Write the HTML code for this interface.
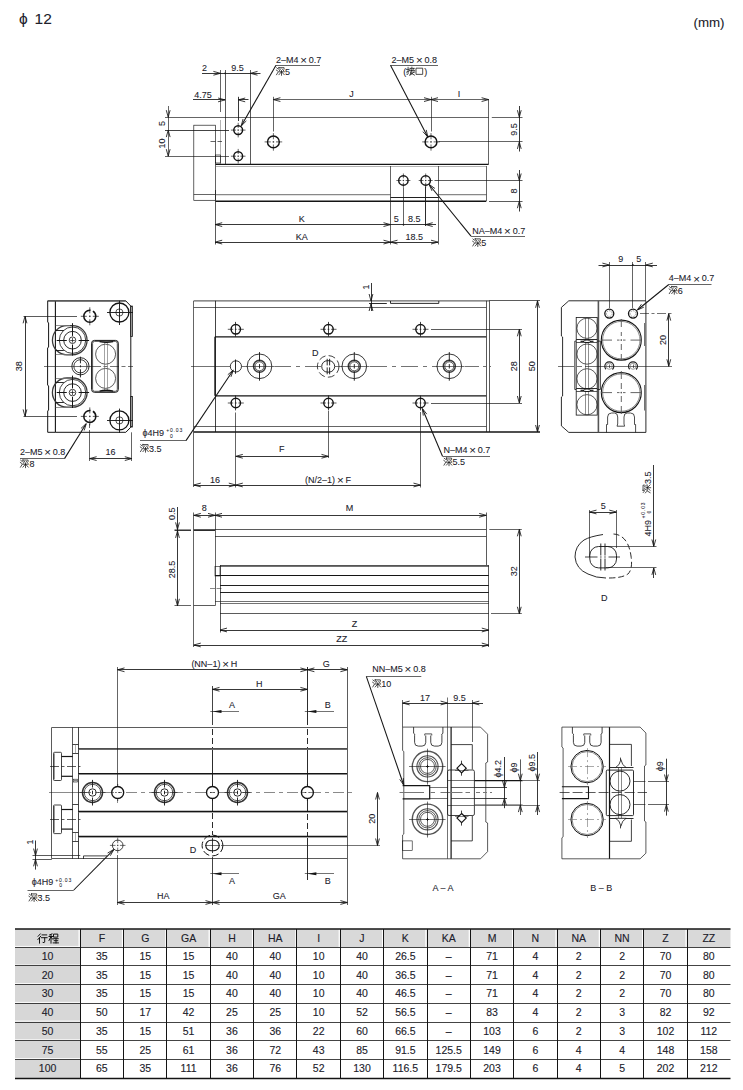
<!DOCTYPE html>
<html><head><meta charset="utf-8"><title>phi12 dimensions</title>
<style>
html,body{margin:0;padding:0;background:#fff;}
body{width:743px;height:1090px;overflow:hidden;font-family:"Liberation Sans",sans-serif;}
svg{display:block;}
svg text{font-family:"Liberation Sans",sans-serif;fill:#20202a;}
</style></head><body>
<svg width="743" height="1090" viewBox="0 0 743 1090" fill="none" stroke="#141414" stroke-linecap="butt" stroke-linejoin="miter">
<rect x="0" y="0" width="743" height="1090" fill="#fff" stroke="none"/>
<text x="19" y="23.7" font-size="15.5" text-anchor="start" stroke="#20202a" stroke-width="0.08">&#981;</text>
<text x="34.6" y="23.7" font-size="15.5" text-anchor="start" stroke="#20202a" stroke-width="0.08">12</text>
<text x="693.5" y="27.3" font-size="13.3" text-anchor="start" stroke="#20202a" stroke-width="0.08">(mm)</text>
<rect x="193.8" y="125.2" width="21.7" height="75.1" stroke-width="0.66"/>
<path d="M193.8 194.5L215.5 194.5" stroke-width="0.66"/>
<path d="M165 117.5L488.6 117.5" stroke-width="0.66"/>
<path d="M488.5 99L488.5 164.4" stroke-width="0.66"/>
<path d="M220.5 70L220.5 112" stroke-width="0.66"/>
<path d="M220.5 120L220.5 164.4" stroke-width="0.45" stroke="#555"/>
<path d="M225.5 70L225.5 164.4" stroke-width="0.7"/>
<path d="M250.5 70L250.5 164.4" stroke-width="0.7"/>
<path d="M215.5 164.4L488.6 164.4" stroke-width="1.35"/>
<path d="M215.5 201.2L486.2 201.2" stroke-width="1.35"/>
<path d="M215.5 194.6L390.5 194.6" stroke-width="1.2" stroke="#888"/>
<path d="M438.5 194.6L486.3 194.6" stroke-width="1.2" stroke="#888"/>
<path d="M215.5 190L215.5 244.5" stroke-width="0.7"/>
<path d="M215.5 166.5L486.2 166.5" stroke-width="0.45" stroke="#555"/>
<path d="M486.5 166L486.5 201.2" stroke-width="0.66"/>
<path d="M390.5 197.5L438.5 197.5" stroke-width="0.95"/>
<path d="M390.5 166L390.5 244.5" stroke-width="0.66"/>
<path d="M438.5 166L438.5 244.5" stroke-width="0.66"/>
<rect x="215.6" y="155" width="4.8" height="8" stroke-width="0.66"/>
<path d="M210.5 141.5L222 141.5" stroke-width="0.66" stroke-dasharray="5 2"/>
<circle cx="238.2" cy="130.1" r="4.4" stroke-width="1.45"/>
<path d="M230.9 130.1H236M237.5 130.1H238.9M240.4 130.1H245.5M238.2 122.8V127.9M238.2 129.4V130.8M238.2 132.3V137.4" stroke-width="0.65"/>
<circle cx="238.2" cy="156.2" r="4.4" stroke-width="1.45"/>
<path d="M230.9 156.2H236M237.5 156.2H238.9M240.4 156.2H245.5M238.2 148.9V154M238.2 155.5V156.9M238.2 158.4V163.5" stroke-width="0.65"/>
<circle cx="273.4" cy="141.9" r="5.9" stroke-width="1.45"/>
<path d="M264.6 141.9H270.8M272.6 141.9H274.2M276 141.9H282.2M273.4 133.1V139.3M273.4 141.1V142.7M273.4 144.5V150.7" stroke-width="0.65"/>
<circle cx="431" cy="141.9" r="5.9" stroke-width="1.45"/>
<path d="M422.2 141.9H428.4M430.2 141.9H431.8M433.6 141.9H439.8M431 133.1V139.3M431 141.1V142.7M431 144.5V150.7" stroke-width="0.65"/>
<circle cx="403.4" cy="180.5" r="4.7" stroke-width="1.45"/>
<path d="M396.4 180.5H401.2M402.7 180.5H404.1M405.6 180.5H410.4M403.4 173.5V178.3M403.4 179.8V181.2M403.4 182.7V187.5" stroke-width="0.65"/>
<circle cx="425.7" cy="180.5" r="4.7" stroke-width="1.45"/>
<path d="M418.7 180.5H423.5M425 180.5H426.4M427.9 180.5H432.7M425.7 173.5V178.3M425.7 179.8V181.2M425.7 182.7V187.5" stroke-width="0.65"/>
<path d="M202 73.5L260.5 73.5" stroke-width="0.85"/>
<path d="M213.40 75.20L220.4 73.3L213.40 71.40" stroke-width="0.85"/>
<path d="M257.50 71.40L250.5 73.3L257.50 75.20" stroke-width="0.85"/>
<circle cx="225.1" cy="73.3" r="0.9" fill="#1c1c1c" stroke="none"/>
<text x="204.5" y="70.6" font-size="9" text-anchor="middle" stroke="#20202a" stroke-width="0.08">2</text>
<text x="237.5" y="70.6" font-size="9" text-anchor="middle" stroke="#20202a" stroke-width="0.08">9.5</text>
<path d="M193 99.5L225.1 99.5" stroke-width="0.85"/>
<path d="M218.10 101.80L225.1 99.9L218.10 98.00" stroke-width="0.85"/>
<text x="203" y="97.6" font-size="9" text-anchor="middle" stroke="#20202a" stroke-width="0.08">4.75</text>
<path d="M238.5 96.8L238.5 121" stroke-width="0.85"/>
<path d="M238.2 99.5L248.5 99.5" stroke-width="0.85"/>
<path d="M245.20 98.00L238.2 99.9L245.20 101.80" stroke-width="0.85"/>
<path d="M273.5 96.8L273.5 131.5" stroke-width="0.66"/>
<path d="M273.4 99.5L488.6 99.5" stroke-width="0.66"/>
<path d="M280.40 97.70L273.4 99.6L280.40 101.50" stroke-width="0.85"/>
<path d="M424.00 101.50L431 99.6L424.00 97.70" stroke-width="0.85"/>
<path d="M438.00 97.70L431 99.6L438.00 101.50" stroke-width="0.85"/>
<path d="M481.60 101.50L488.6 99.6L481.60 97.70" stroke-width="0.85"/>
<path d="M431.5 96.8L431.5 131.5" stroke-width="0.66"/>
<text x="351.5" y="97" font-size="9" text-anchor="middle" stroke="#20202a" stroke-width="0.08">J</text>
<text x="459" y="97" font-size="9" text-anchor="middle" stroke="#20202a" stroke-width="0.08">I</text>
<path d="M168.5 106L168.5 156.2" stroke-width="0.66"/>
<path d="M166.30 110.20L168.2 117.2L170.10 110.20" stroke-width="0.85"/>
<path d="M170.10 137.10L168.2 130.1L166.30 137.10" stroke-width="0.85"/>
<path d="M166.30 149.20L168.2 156.2L170.10 149.20" stroke-width="0.85"/>
<path d="M165 130.5L229 130.5" stroke-width="0.8"/>
<path d="M165 156.5L229 156.5" stroke-width="0.66"/>
<text x="165" y="123.5" font-size="9" text-anchor="middle" transform="rotate(-90 165 123.5)" stroke="#20202a" stroke-width="0.08">5</text>
<text x="165" y="143.5" font-size="9" text-anchor="middle" transform="rotate(-90 165 143.5)" stroke="#20202a" stroke-width="0.08">10</text>
<path d="M276 65.5L320 65.5" stroke-width="0.66"/>
<path d="M276 65.2L241.5 125.5" stroke-width="1.05"/>
<path d="M243.05 118.99L241.2 126L246.35 120.89" stroke-width="0.85"/>
<text x="276" y="62.5" font-size="9" text-anchor="start" stroke="#20202a" stroke-width="0.08">2&#8211;M4&#8201;<tspan font-size="11.5" dy="1.2">&#215;</tspan><tspan dy="-1.2">&#8201;</tspan>0.7</text>
<path d="M8 12L22 24M4 38L18 48M6 92L24 62 M34 8V26M34 10H94V26 M52 26L40 46M74 26L90 46 M32 58H96 M64 44V98 M62 60L34 92M66 60L96 92" transform="translate(276 66.8) scale(0.0860)" stroke-width="8.72" stroke-linecap="square"/>
<text x="284.9" y="74.6" font-size="9" text-anchor="start" stroke="#20202a" stroke-width="0.08">5</text>
<path d="M390.5 65.5L438 65.5" stroke-width="0.66"/>
<path d="M390.5 65.2L427.5 136.5" stroke-width="1.05"/>
<path d="M422.88 131.67L427.8 137L426.25 129.91" stroke-width="0.85"/>
<text x="414.3" y="62.5" font-size="9" text-anchor="middle" stroke="#20202a" stroke-width="0.08">2&#8211;M5&#8201;<tspan font-size="11.5" dy="1.2">&#215;</tspan><tspan dy="-1.2">&#8201;</tspan>0.8</text>
<text x="403.3" y="74.6" font-size="9" text-anchor="start" stroke="#20202a" stroke-width="0.08">(</text>
<path d="M4 30H36M22 6V82Q22 94 8 88M4 62L38 46 M66 4V16M44 18H94M54 22L60 38M84 22L78 38M42 42H98 M62 42Q58 70 44 96M50 62H98M88 62Q78 84 44 96M54 74Q76 84 96 96" transform="translate(406.2 66.8) scale(0.0860)" stroke-width="8.72" stroke-linecap="square"/>
<path d="M14 16H86V88H14Z" transform="translate(415.3 66.8) scale(0.0860)" stroke-width="8.72" stroke-linecap="square"/>
<text x="424.2" y="74.6" font-size="9" text-anchor="start" stroke="#20202a" stroke-width="0.08">)</text>
<path d="M491.8 117.5L522.5 117.5" stroke-width="0.66"/>
<path d="M438.5 141.5L522.5 141.5" stroke-width="0.66"/>
<path d="M519.5 106L519.5 151.5" stroke-width="0.85"/>
<path d="M517.40 110.20L519.3 117.2L521.20 110.20" stroke-width="0.85"/>
<path d="M521.20 148.90L519.3 141.9L517.40 148.90" stroke-width="0.85"/>
<text x="517" y="129.5" font-size="9" text-anchor="middle" transform="rotate(-90 517 129.5)" stroke="#20202a" stroke-width="0.08">9.5</text>
<path d="M434.5 180.5L522.5 180.5" stroke-width="0.7"/>
<path d="M489 201.5L522.5 201.5" stroke-width="0.7"/>
<path d="M519.5 170L519.5 211.5" stroke-width="0.85"/>
<path d="M517.40 173.50L519.3 180.5L521.20 173.50" stroke-width="0.85"/>
<path d="M521.20 208.20L519.3 201.2L517.40 208.20" stroke-width="0.85"/>
<text x="517" y="191" font-size="9" text-anchor="middle" transform="rotate(-90 517 191)" stroke="#20202a" stroke-width="0.08">8</text>
<path d="M215.2 224.5L390.5 224.5" stroke-width="0.85"/>
<path d="M222.20 222.70L215.2 224.6L222.20 226.50" stroke-width="0.85"/>
<path d="M383.50 226.50L390.5 224.6L383.50 222.70" stroke-width="0.85"/>
<text x="301.8" y="221.8" font-size="9" text-anchor="middle" stroke="#20202a" stroke-width="0.08">K</text>
<path d="M215.2 242.5L438 242.5" stroke-width="0.85"/>
<path d="M222.20 240.20L215.2 242.1L222.20 244.00" stroke-width="0.85"/>
<path d="M383.50 244.00L390.5 242.1L383.50 240.20" stroke-width="0.85"/>
<path d="M397.50 240.20L390.5 242.1L397.50 244.00" stroke-width="0.85"/>
<path d="M431.00 244.00L438 242.1L431.00 240.20" stroke-width="0.85"/>
<text x="301.8" y="239.6" font-size="9" text-anchor="middle" stroke="#20202a" stroke-width="0.08">KA</text>
<path d="M403.5 187.5L403.5 225.5" stroke-width="0.66"/>
<path d="M425.5 186.5L425.5 226" stroke-width="0.9"/>
<path d="M390.5 224.5L436 224.5" stroke-width="0.85"/>
<path d="M432.70 222.70L425.7 224.6L432.70 226.50" stroke-width="0.85"/>
<circle cx="403.5" cy="224.6" r="0.9" fill="#1c1c1c" stroke="none"/>
<text x="396.3" y="222" font-size="9" text-anchor="middle" stroke="#20202a" stroke-width="0.08">5</text>
<text x="414.3" y="222" font-size="9" text-anchor="middle" stroke="#20202a" stroke-width="0.08">8.5</text>
<text x="414.3" y="239.8" font-size="9" text-anchor="middle" stroke="#20202a" stroke-width="0.08">18.5</text>
<path d="M471 236.5L525 236.5" stroke-width="0.66"/>
<path d="M471 236.2L429.5 185" stroke-width="1.05"/>
<path d="M434.92 188.49L429 184.3L431.99 190.91" stroke-width="0.85"/>
<text x="472.3" y="233.7" font-size="9" text-anchor="start" stroke="#20202a" stroke-width="0.08">NA&#8211;M4&#8201;<tspan font-size="11.5" dy="1.2">&#215;</tspan><tspan dy="-1.2">&#8201;</tspan>0.7</text>
<path d="M8 12L22 24M4 38L18 48M6 92L24 62 M34 8V26M34 10H94V26 M52 26L40 46M74 26L90 46 M32 58H96 M64 44V98 M62 60L34 92M66 60L96 92" transform="translate(472.3 238) scale(0.0860)" stroke-width="8.72" stroke-linecap="square"/>
<text x="481.2" y="245.8" font-size="9" text-anchor="start" stroke="#20202a" stroke-width="0.08">5</text>
<path d="M55.4 300.9L47.7 300.9L47.7 322L48.6 323L48.6 347L47.6 348L47.6 385L48.6 386L48.6 410L47.7 411L47.7 432.3L55.4 432.3" stroke-width="1.0"/>
<path d="M55.4 300.9L125.8 300.9L130.8 306.1L130.8 427.2L125.8 432.3L55.4 432.3" stroke-width="1.0"/>
<path d="M55.4 300.9L55.4 432.3" stroke-width="1.1"/>
<path d="M47.7 300.9L125.8 300.9" stroke-width="1.3" stroke="#555"/>
<rect x="130.8" y="306.1" width="1.7" height="30.4" stroke-width="0.8"/>
<rect x="130.8" y="396.5" width="1.7" height="30.5" stroke-width="0.8"/>
<path d="M44 366.5L92 366.5" stroke-width="0.6"/>
<path d="M92 366.5L133 366.5" stroke-width="0.6" stroke-dasharray="9 2.5 4 2.5"/>
<circle cx="89.8" cy="316.3" r="6" stroke-width="1.5" stroke-dasharray="28.3 2.5"/>
<path d="M80.8 316.3H86.8M89 316.3H90.6M92.8 316.3H98.8M89.8 307.3V313.3M89.8 315.5V317.1M89.8 319.3V325.3" stroke-width="0.7"/>
<circle cx="89.8" cy="416.4" r="6" stroke-width="1.5" stroke-dasharray="28.3 2.5"/>
<path d="M80.8 416.4H86.8M89 416.4H90.6M92.8 416.4H98.8M89.8 407.4V413.4M89.8 415.6V417.2M89.8 419.4V425.4" stroke-width="0.7"/>
<circle cx="119.4" cy="312.5" r="9.5" stroke-width="1.3"/>
<circle cx="119.4" cy="312.5" r="3.6" stroke-width="0.9" stroke="#444"/>
<path d="M107 312.5L133 312.5" stroke-width="0.9"/>
<path d="M119.5 300.7L119.5 325" stroke-width="0.9"/>
<circle cx="119.4" cy="420.4" r="9.5" stroke-width="1.3"/>
<circle cx="119.4" cy="420.4" r="3.6" stroke-width="0.9" stroke="#444"/>
<path d="M107 420.5L133 420.5" stroke-width="0.9"/>
<path d="M119.5 408.6L119.5 432.9" stroke-width="0.9"/>
<path d="M67 325.59999999999997H72.5A14.6 14.6 0 0 1 72.5 354.8H67A14.6 14.6 0 0 1 67 325.59999999999997Z" stroke-width="1.3" stroke="#3a3a3a"/>
<path d="M55.8 325.5L70 325.5" stroke-width="0.8" stroke="#777"/>
<path d="M55.8 354.5L70 354.5" stroke-width="0.8" stroke="#777"/>
<circle cx="72.5" cy="340.2" r="13.2" stroke-width="0.8"/>
<circle cx="72.5" cy="340.2" r="8.8" stroke-width="0.9"/>
<circle cx="72.5" cy="340.2" r="3.3" stroke-width="0.8"/>
<path d="M55.4 330.5L63.8 330.5" stroke-width="0.9"/>
<path d="M55.4 350.5L63.8 350.5" stroke-width="0.9"/>
<path d="M56.7 340.5L66.8 340.5" stroke-width="1.0"/>
<path d="M78.6 340.5L89.1 340.5" stroke-width="1.0"/>
<path d="M70.2 340.5L74.8 340.5" stroke-width="0.7"/>
<path d="M72.5 323.2L72.5 335.9" stroke-width="1.0"/>
<path d="M72.5 344.5L72.5 355.6" stroke-width="1.0"/>
<path d="M72.5 337.8L72.5 342.6" stroke-width="0.7"/>
<path d="M67 378.0H72.5A14.6 14.6 0 0 1 72.5 407.20000000000005H67A14.6 14.6 0 0 1 67 378.0Z" stroke-width="1.3" stroke="#3a3a3a"/>
<path d="M55.8 378.5L70 378.5" stroke-width="0.8" stroke="#777"/>
<path d="M55.8 407.5L70 407.5" stroke-width="0.8" stroke="#777"/>
<circle cx="72.5" cy="392.6" r="13.2" stroke-width="0.8"/>
<circle cx="72.5" cy="392.6" r="8.8" stroke-width="0.9"/>
<circle cx="72.5" cy="392.6" r="3.3" stroke-width="0.8"/>
<path d="M55.4 382.5L63.8 382.5" stroke-width="0.9"/>
<path d="M55.4 402.5L63.8 402.5" stroke-width="0.9"/>
<path d="M56.7 392.5L66.8 392.5" stroke-width="1.0"/>
<path d="M78.6 392.5L89.1 392.5" stroke-width="1.0"/>
<path d="M70.2 392.5L74.8 392.5" stroke-width="0.7"/>
<path d="M72.5 375.6L72.5 388.3" stroke-width="1.0"/>
<path d="M72.5 396.9L72.5 408" stroke-width="1.0"/>
<path d="M72.5 390.2L72.5 395" stroke-width="0.7"/>
<circle cx="80.45" cy="366.3" r="8.6" stroke-width="0.9"/>
<circle cx="80.45" cy="366.3" r="6.6" stroke-width="0.8"/>
<path d="M80.45 356.7V363.3M80.45 365.3V367.3M80.45 369.3V377.4" stroke-width="0.9"/>
<rect x="91.6" y="340.4" width="26.7" height="51.9" rx="2.8" stroke-width="1.0"/>
<rect x="92.6" y="341.4" width="24.7" height="49.9" rx="2" stroke-width="0.7"/>
<circle cx="105.6" cy="354.2" r="10" stroke-width="0.7"/>
<circle cx="105.6" cy="378.4" r="10" stroke-width="0.7"/>
<path d="M104.5 342L104.5 391" stroke-width="0.6" stroke="#666"/>
<path d="M107.5 342L107.5 391" stroke-width="0.6" stroke="#666"/>
<path d="M99.6 341.6Q106.3 343.2 113.1 341.6" stroke-width="1.4"/>
<path d="M99.6 391.1Q106.3 389.5 113.1 391.1" stroke-width="1.4"/>
<path d="M23.5 316.5L77 316.5" stroke-width="0.7"/>
<path d="M23.5 416.5L77 416.5" stroke-width="0.7"/>
<path d="M25.5 316.3L25.5 416.4" stroke-width="0.85"/>
<path d="M26.90 323.30L25 316.3L23.10 323.30" stroke-width="0.85"/>
<path d="M23.10 409.40L25 416.4L26.90 409.40" stroke-width="0.85"/>
<text x="22.5" y="366.3" font-size="9" text-anchor="middle" transform="rotate(-90 22.5 366.3)" stroke="#20202a" stroke-width="0.08">38</text>
<path d="M89.5 424L89.5 428" stroke-width="0.66"/>
<path d="M89.5 430L89.5 461" stroke-width="0.66"/>
<path d="M131.5 432.3L131.5 461" stroke-width="0.66"/>
<path d="M89.6 458.5L131.8 458.5" stroke-width="0.85"/>
<path d="M96.60 456.70L89.6 458.6L96.60 460.50" stroke-width="0.85"/>
<path d="M124.80 460.50L131.8 458.6L124.80 456.70" stroke-width="0.85"/>
<text x="110.5" y="454.6" font-size="9" text-anchor="middle" stroke="#20202a" stroke-width="0.08">16</text>
<path d="M20 458.5L64.5 458.5" stroke-width="0.66"/>
<path d="M64.5 458.6L86 424" stroke-width="1.05"/>
<path d="M84.20 430.44L86.3 423.5L80.98 428.43" stroke-width="0.85"/>
<text x="20" y="454.6" font-size="9" text-anchor="start" stroke="#20202a" stroke-width="0.08">2&#8211;M5&#8201;<tspan font-size="11.5" dy="1.2">&#215;</tspan><tspan dy="-1.2">&#8201;</tspan>0.8</text>
<path d="M8 12L22 24M4 38L18 48M6 92L24 62 M34 8V26M34 10H94V26 M52 26L40 46M74 26L90 46 M32 58H96 M64 44V98 M62 60L34 92M66 60L96 92" transform="translate(20 459.2) scale(0.0860)" stroke-width="8.72" stroke-linecap="square"/>
<text x="29.4" y="467" font-size="9" text-anchor="start" stroke="#20202a" stroke-width="0.08">8</text>
<path d="M193.8 300.8L489 300.8" stroke-width="1.3" stroke="#666"/>
<path d="M489 300.5L540 300.5" stroke-width="0.7"/>
<path d="M193.8 432L540 432" stroke-width="1.35"/>
<path d="M193.5 300.8L193.5 487" stroke-width="0.66"/>
<path d="M215.5 300.8L215.5 432" stroke-width="0.8"/>
<path d="M193.8 307.5L486.2 307.5" stroke-width="0.66"/>
<path d="M193.8 426.5L486.2 426.5" stroke-width="0.66"/>
<path d="M486.5 300.8L486.5 432" stroke-width="0.7"/>
<path d="M489.5 300.8L489.5 432" stroke-width="0.7"/>
<path d="M369 303.5L386.8 303.5" stroke-width="0.9"/>
<path d="M390.5 301V303.4H438.8V301" stroke-width="0.9"/>
<path d="M371.5 283L371.5 311" stroke-width="0.85"/>
<path d="M369.10 294.00L371 301L372.90 294.00" stroke-width="0.85"/>
<path d="M372.90 311.00L371 304L369.10 311.00" stroke-width="0.85"/>
<text x="369" y="287" font-size="9" text-anchor="middle" transform="rotate(-90 369 287)" stroke="#20202a" stroke-width="0.08">1</text>
<path d="M215 336.8L486.2 336.8" stroke-width="1.35"/>
<path d="M215 395.8L486.2 395.8" stroke-width="1.35"/>
<path d="M215 336.8L215 395.8" stroke-width="1.35"/>
<circle cx="235.8" cy="329.3" r="4.7" stroke-width="1.45"/>
<path d="M235.5 321.9L235.5 336.7" stroke-width="0.8"/>
<path d="M227.8 329.3H233.20000000000002M234.9 329.3H236.70000000000002M238.4 329.3H243.8" stroke-width="0.7"/>
<circle cx="235.8" cy="403" r="4.7" stroke-width="1.45"/>
<path d="M235.5 395.6L235.5 410.4" stroke-width="0.8"/>
<path d="M227.8 403H233.20000000000002M234.9 403H236.70000000000002M238.4 403H243.8" stroke-width="0.7"/>
<circle cx="328.5" cy="329.3" r="4.7" stroke-width="1.45"/>
<path d="M328.5 321.9L328.5 336.7" stroke-width="0.8"/>
<path d="M320.5 329.3H325.9M327.6 329.3H329.4M331.1 329.3H336.5" stroke-width="0.7"/>
<circle cx="328.5" cy="403" r="4.7" stroke-width="1.45"/>
<path d="M328.5 395.6L328.5 410.4" stroke-width="0.8"/>
<path d="M320.5 403H325.9M327.6 403H329.4M331.1 403H336.5" stroke-width="0.7"/>
<circle cx="420.5" cy="329.3" r="4.7" stroke-width="1.45"/>
<path d="M420.5 321.9L420.5 336.7" stroke-width="0.8"/>
<path d="M412.5 329.3H417.9M419.6 329.3H421.4M423.1 329.3H428.5" stroke-width="0.7"/>
<circle cx="420.5" cy="403" r="4.7" stroke-width="1.45"/>
<path d="M420.5 395.6L420.5 410.4" stroke-width="0.8"/>
<path d="M412.5 403H417.9M419.6 403H421.4M423.1 403H428.5" stroke-width="0.7"/>
<circle cx="235.9" cy="366.4" r="5.6" stroke-width="0.85"/>
<path d="M235.5 359.5L235.5 373.8" stroke-width="0.9"/>
<circle cx="259.5" cy="366.3" r="12.3" stroke-width="0.85"/>
<circle cx="259.5" cy="366.3" r="6" stroke-width="1.5" stroke="#3c3c3c"/>
<circle cx="259.5" cy="366.3" r="4.5" stroke-width="0.7"/>
<path d="M246.7 366.5L274.8 366.5" stroke-width="0.6"/>
<path d="M259.5 352.1V361.3M259.5 364.1V368.5M259.5 371.3V380.7" stroke-width="0.9"/>
<circle cx="354.3" cy="366.3" r="12.3" stroke-width="0.85"/>
<circle cx="354.3" cy="366.3" r="6" stroke-width="1.5" stroke="#3c3c3c"/>
<circle cx="354.3" cy="366.3" r="4.5" stroke-width="0.7"/>
<path d="M341.5 366.5L369.6 366.5" stroke-width="0.6"/>
<path d="M354.3 352.1V361.3M354.3 364.1V368.5M354.3 371.3V380.7" stroke-width="0.9"/>
<circle cx="449.3" cy="366.3" r="12.3" stroke-width="0.85"/>
<circle cx="449.3" cy="366.3" r="6" stroke-width="1.5" stroke="#3c3c3c"/>
<circle cx="449.3" cy="366.3" r="4.5" stroke-width="0.7"/>
<path d="M436.5 366.5L464.6 366.5" stroke-width="0.6"/>
<path d="M449.3 352.1V361.3M449.3 364.1V368.5M449.3 371.3V380.7" stroke-width="0.9"/>
<path d="M191 366.5L230.3 366.5" stroke-width="0.6"/>
<path d="M241.5 366.5L247 366.5" stroke-width="0.6"/>
<path d="M275 366.5L322 366.5" stroke-width="0.6" stroke-dasharray="16 5 4 5"/>
<path d="M335 366.5L342 366.5" stroke-width="0.6"/>
<path d="M370 366.5L437 366.5" stroke-width="0.6" stroke-dasharray="17 5 4 5"/>
<path d="M465 366.5L491 366.5" stroke-width="0.6" stroke-dasharray="14 4 3 4"/>
<circle cx="328.2" cy="366.4" r="10.8" stroke-width="0.8" stroke-dasharray="7 3.2"/>
<path d="M327.4 360.7H329A5.7 5.7 0 0 1 329 372.1H327.4A5.7 5.7 0 0 1 327.4 360.7Z" stroke-width="0.9"/>
<path d="M327.2 358.8V365.4M327.2 367.4V374.3M329.6 358.8V365.4M329.6 367.4V374.3" stroke-width="0.9"/>
<text x="315.2" y="355.8" font-size="9" text-anchor="middle" stroke="#20202a" stroke-width="0.08">D</text>
<path d="M140 440.5L186 440.5" stroke-width="0.66"/>
<path d="M186 440.6L233 370.5" stroke-width="1.05"/>
<path d="M230.96 376.87L233.3 370L227.81 374.74" stroke-width="0.85"/>
<text x="142.5" y="435.8" font-size="9" text-anchor="start" stroke="#20202a" stroke-width="0.08">&#981;4H9</text>
<text x="166.2" y="432.1" font-size="5" text-anchor="start" letter-spacing="0.85" stroke="#20202a" stroke-width="0.05">+0.03</text>
<text x="170" y="438.1" font-size="5" text-anchor="start" letter-spacing="0.85" stroke="#20202a" stroke-width="0.05">0</text>
<path d="M8 12L22 24M4 38L18 48M6 92L24 62 M34 8V26M34 10H94V26 M52 26L40 46M74 26L90 46 M32 58H96 M64 44V98 M62 60L34 92M66 60L96 92" transform="translate(140 443.7) scale(0.0860)" stroke-width="8.72" stroke-linecap="square"/>
<text x="148.9" y="451.5" font-size="9" text-anchor="start" stroke="#20202a" stroke-width="0.08">3.5</text>
<path d="M235.5 412.5L235.5 487.5" stroke-width="0.66"/>
<path d="M328.5 411L328.5 458" stroke-width="0.66"/>
<path d="M420.5 412L420.5 487.5" stroke-width="0.66"/>
<path d="M235.8 456.5L328.5 456.5" stroke-width="0.85"/>
<path d="M242.80 454.40L235.8 456.3L242.80 458.20" stroke-width="0.85"/>
<path d="M321.50 458.20L328.5 456.3L321.50 454.40" stroke-width="0.85"/>
<text x="281.8" y="452" font-size="9" text-anchor="middle" stroke="#20202a" stroke-width="0.08">F</text>
<path d="M193.8 485.5L420.5 485.5" stroke-width="0.85"/>
<path d="M200.80 483.10L193.8 485L200.80 486.90" stroke-width="0.85"/>
<path d="M228.80 486.90L235.8 485L228.80 483.10" stroke-width="0.85"/>
<path d="M242.80 483.10L235.8 485L242.80 486.90" stroke-width="0.85"/>
<path d="M413.50 486.90L420.5 485L413.50 483.10" stroke-width="0.85"/>
<text x="215" y="482.6" font-size="9" text-anchor="middle" stroke="#20202a" stroke-width="0.08">16</text>
<text x="328" y="482.6" font-size="9" text-anchor="middle" stroke="#20202a" stroke-width="0.08">(N/2&#8211;1)&#8201;<tspan font-size="11.5" dy="1.2">&#215;</tspan><tspan dy="-1.2">&#8201;</tspan>F</text>
<path d="M442.5 456.5L490 456.5" stroke-width="0.66"/>
<path d="M442.5 456.3L422.5 409" stroke-width="1.05"/>
<path d="M426.78 414.10L422.3 408.4L423.29 415.59" stroke-width="0.85"/>
<text x="443.5" y="452.7" font-size="9" text-anchor="start" stroke="#20202a" stroke-width="0.08">N&#8211;M4&#8201;<tspan font-size="11.5" dy="1.2">&#215;</tspan><tspan dy="-1.2">&#8201;</tspan>0.7</text>
<path d="M8 12L22 24M4 38L18 48M6 92L24 62 M34 8V26M34 10H94V26 M52 26L40 46M74 26L90 46 M32 58H96 M64 44V98 M62 60L34 92M66 60L96 92" transform="translate(443.5 457.2) scale(0.0860)" stroke-width="8.72" stroke-linecap="square"/>
<text x="452.4" y="465" font-size="9" text-anchor="start" stroke="#20202a" stroke-width="0.08">5.5</text>
<path d="M431 329.5L522 329.5" stroke-width="0.7"/>
<path d="M431 403.5L522 403.5" stroke-width="0.7"/>
<path d="M519.5 329.3L519.5 403" stroke-width="0.85"/>
<path d="M521.20 336.30L519.3 329.3L517.40 336.30" stroke-width="0.85"/>
<path d="M517.40 396.00L519.3 403L521.20 396.00" stroke-width="0.85"/>
<text x="517" y="366.3" font-size="9" text-anchor="middle" transform="rotate(-90 517 366.3)" stroke="#20202a" stroke-width="0.08">28</text>
<path d="M537.5 300.8L537.5 432" stroke-width="0.85"/>
<path d="M539.40 307.80L537.5 300.8L535.60 307.80" stroke-width="0.85"/>
<path d="M535.60 425.00L537.5 432L539.40 425.00" stroke-width="0.85"/>
<text x="535" y="366.3" font-size="9" text-anchor="middle" transform="rotate(-90 535 366.3)" stroke="#20202a" stroke-width="0.08">50</text>
<path d="M568.8 300.8L645.9 300.8L645.9 432.4L568.8 432.4L561.4 425.9L561.4 397L562.6 396L562.6 337L561.4 336L561.4 307.4Z" stroke-width="0.9"/>
<path d="M598.4 300.8L598.4 432.4" stroke-width="1.6" stroke="#555"/>
<path d="M644.5 323L644.5 346" stroke-width="0.6"/>
<path d="M644.5 385L644.5 410.5" stroke-width="0.6"/>
<rect x="576.2" y="317.5" width="21" height="97.6" stroke-width="0.8"/>
<path d="M576.2 341.1H574.8V389.5H576.2M597.2 341.1H600.4V389.5H597.2" stroke-width="0.8"/>
<circle cx="587" cy="328.3" r="10.1" stroke-width="0.7"/>
<circle cx="587" cy="354.1" r="10.1" stroke-width="0.7"/>
<circle cx="587" cy="378.8" r="10.1" stroke-width="0.7"/>
<circle cx="587" cy="404.7" r="10.1" stroke-width="0.7"/>
<path d="M585.5 317.5L585.5 415.1" stroke-width="0.6" stroke="#444"/>
<path d="M588.5 317.5L588.5 415.1" stroke-width="0.6" stroke="#444"/>
<ellipse cx="587" cy="341.3" rx="3.4" ry="1.3" stroke-width="0.9" fill="#fff"/>
<path d="M576.2 339.5L597.2 339.5" stroke-width="0.9"/>
<path d="M576.2 342.5L597.2 342.5" stroke-width="0.7"/>
<path d="M580.5 341.3L584 341.3" stroke-width="1.2"/>
<path d="M590 341.3L593.5 341.3" stroke-width="1.2"/>
<ellipse cx="587" cy="390.3" rx="3.4" ry="1.3" stroke-width="0.9" fill="#fff"/>
<path d="M576.2 388.5L597.2 388.5" stroke-width="0.9"/>
<path d="M576.2 391.5L597.2 391.5" stroke-width="0.7"/>
<path d="M580.5 390.3L584 390.3" stroke-width="1.2"/>
<path d="M590 390.3L593.5 390.3" stroke-width="1.2"/>
<path d="M558 366.5L600 366.5" stroke-width="0.6" stroke-dasharray="16 3 5 3"/>
<path d="M600 366.5L672 366.5" stroke-width="0.6"/>
<circle cx="609.3" cy="313.6" r="4.5" stroke-width="1.3"/>
<circle cx="609.3" cy="313.6" r="2.9" stroke-width="0.6" stroke-dasharray="1.6 1" stroke="#555"/>
<circle cx="609.3" cy="366.3" r="4.5" stroke-width="1.2" stroke-dasharray="3.5 7.1 17.7" stroke="#222"/>
<circle cx="609.3" cy="366.3" r="3" stroke-width="0.6" stroke="#666"/>
<path d="M609.5 364.5L609.5 368.1" stroke-width="0.6"/>
<circle cx="633" cy="313.6" r="4.5" stroke-width="1.3"/>
<circle cx="633" cy="313.6" r="2.9" stroke-width="0.6" stroke-dasharray="1.6 1" stroke="#555"/>
<circle cx="633" cy="366.3" r="4.5" stroke-width="1.2" stroke-dasharray="3.5 7.1 17.7" stroke="#222"/>
<circle cx="633" cy="366.3" r="3" stroke-width="0.6" stroke="#666"/>
<path d="M633.5 364.5L633.5 368.1" stroke-width="0.6"/>
<circle cx="621.3" cy="340.1" r="20" stroke-width="1.1"/>
<circle cx="621.3" cy="340.1" r="18.7" stroke-width="0.7" stroke="#555"/>
<path d="M601 340.1H612M617 340.1H619.5M620.6 340.1H622M623 340.1H625.5M630.5 340.1H642" stroke-width="0.9" stroke="#555"/>
<circle cx="621.3" cy="392.6" r="20" stroke-width="1.1"/>
<circle cx="621.3" cy="392.6" r="18.7" stroke-width="0.7" stroke="#555"/>
<path d="M601 392.6H612M617 392.6H619.5M620.6 392.6H622M623 392.6H625.5M630.5 392.6H642" stroke-width="0.9" stroke="#555"/>
<path d="M621.3 319V327M621.3 332V336M621.3 339.3V340.9M621.3 344V350M621.3 354V361M621.3 371V379M621.3 383V389M621.3 391.8V393.4M621.3 396V402M621.3 406V414" stroke-width="0.9" stroke="#555"/>
<path d="M606.5 432.4V424.5H607.6V417Q607.6 413 611.6 413H614.5Q617.7 413 617.7 417V424L617 426.2H624.6L624 424V417Q624 413 627.2 413H630.5Q634.5 413 634.5 417V424.5H635.6V432.4" stroke-width="0.75"/>
<path d="M609.5 262L609.5 308" stroke-width="0.66"/>
<path d="M632.5 262L632.5 308" stroke-width="0.66"/>
<path d="M645.5 262L645.5 300.8" stroke-width="0.66"/>
<path d="M598.5 265.5L657 265.5" stroke-width="0.85"/>
<path d="M602.40 266.90L609.4 265L602.40 263.10" stroke-width="0.85"/>
<path d="M652.80 263.10L645.8 265L652.80 266.90" stroke-width="0.85"/>
<circle cx="632.8" cy="265" r="0.9" fill="#1c1c1c" stroke="none"/>
<text x="620.8" y="262.2" font-size="9" text-anchor="middle" stroke="#20202a" stroke-width="0.08">9</text>
<text x="638.8" y="262.2" font-size="9" text-anchor="middle" stroke="#20202a" stroke-width="0.08">5</text>
<path d="M668.8 284.5L711.5 284.5" stroke-width="0.66"/>
<path d="M668.8 284.5L638 309.5" stroke-width="1.05"/>
<path d="M641.44 304.22L637.2 310.1L643.84 307.17" stroke-width="0.85"/>
<text x="668.8" y="281.3" font-size="9" text-anchor="start" stroke="#20202a" stroke-width="0.08">4&#8211;M4&#8201;<tspan font-size="11.5" dy="1.2">&#215;</tspan><tspan dy="-1.2">&#8201;</tspan>0.7</text>
<path d="M8 12L22 24M4 38L18 48M6 92L24 62 M34 8V26M34 10H94V26 M52 26L40 46M74 26L90 46 M32 58H96 M64 44V98 M62 60L34 92M66 60L96 92" transform="translate(668.8 285.7) scale(0.0860)" stroke-width="8.72" stroke-linecap="square"/>
<text x="677.7" y="293.5" font-size="9" text-anchor="start" stroke="#20202a" stroke-width="0.08">6</text>
<path d="M640 313.5L672 313.5" stroke-width="0.6" stroke-dasharray="9 2.5 3 2.5"/>
<path d="M668.5 313.6L668.5 366.3" stroke-width="0.85"/>
<path d="M670.70 320.60L668.8 313.6L666.90 320.60" stroke-width="0.85"/>
<path d="M666.90 359.30L668.8 366.3L670.70 359.30" stroke-width="0.85"/>
<text x="666.3" y="340" font-size="9" text-anchor="middle" transform="rotate(-90 666.3 340)" stroke="#20202a" stroke-width="0.08">20</text>
<rect x="589.8" y="546.5" width="26.7" height="21.4" rx="8.8" stroke-width="0.9"/>
<path d="M589.5 510L589.5 557" stroke-width="0.66"/>
<path d="M616.5 510L616.5 548" stroke-width="0.66"/>
<path d="M589.5 512.5L616.3 512.5" stroke-width="0.85"/>
<path d="M596.50 510.10L589.5 512L596.50 513.90" stroke-width="0.85"/>
<path d="M609.30 513.90L616.3 512L609.30 510.10" stroke-width="0.85"/>
<text x="603.3" y="508.6" font-size="9" text-anchor="middle" stroke="#20202a" stroke-width="0.08">5</text>
<path d="M600.8 543.5V555.5M600.8 558.5V570.5M605 543.5V555.5M605 558.5V570.5" stroke-width="0.9"/>
<path d="M585 557H597.5M600 557H601.6M604.2 557H605.8M608.5 557H620" stroke-width="0.8"/>
<path d="M603 534.5Q590 536.5 584 540Q575 546 575 557Q576 569 588 574Q596 578 606 578" stroke-width="0.9"/>
<path d="M609 578Q622 578 628 574Q633 569 631 556Q629 542 622 537Q618 534 613 534" stroke-width="0.9" stroke-dasharray="6 3"/>
<path d="M606 546.5L656.5 546.5" stroke-width="0.66"/>
<path d="M606 567.5L656.5 567.5" stroke-width="0.66"/>
<path d="M653.5 465L653.5 546.3" stroke-width="0.85"/>
<path d="M653.5 568.1L653.5 578" stroke-width="0.85"/>
<path d="M651.90 539.50L653.8 546.5L655.70 539.50" stroke-width="0.85"/>
<path d="M655.70 574.90L653.8 567.9L651.90 574.90" stroke-width="0.85"/>
<text x="650.5" y="536.5" font-size="9" text-anchor="start" transform="rotate(-90 650.5 536.5)" stroke="#20202a" stroke-width="0.08">4H9</text>
<text x="644.8" y="518.5" font-size="5" text-anchor="start" transform="rotate(-90 644.8 518.5)" letter-spacing="0.85" stroke="#20202a" stroke-width="0.05">+0.03</text>
<text x="650.8" y="513.5" font-size="5" text-anchor="start" transform="rotate(-90 650.8 513.5)" letter-spacing="0.85" stroke="#20202a" stroke-width="0.05">0</text>
<path d="M8 12L22 24M4 38L18 48M6 92L24 62 M34 8V26M34 10H94V26 M52 26L40 46M74 26L90 46 M32 58H96 M64 44V98 M62 60L34 92M66 60L96 92" transform="rotate(-90 642.2 493.2) translate(642.2 493.2) scale(0.0860)" stroke-width="8.72" stroke-linecap="square"/>
<text x="650.5" y="484" font-size="9" text-anchor="start" transform="rotate(-90 650.5 484)" stroke="#20202a" stroke-width="0.08">3.5</text>
<text x="604.3" y="601.2" font-size="9" text-anchor="middle" stroke="#20202a" stroke-width="0.08">D</text>
<path d="M193.5 512.5L193.5 647" stroke-width="0.66"/>
<path d="M215.5 512.5L215.5 605.8" stroke-width="0.66"/>
<path d="M193.8 529.5L215 529.5" stroke-width="0.7"/>
<path d="M193.8 530.5L215 530.5" stroke-width="0.9"/>
<path d="M193.8 605.5L215 605.5" stroke-width="0.7"/>
<path d="M215 529.5L486.2 529.5" stroke-width="0.7"/>
<path d="M215 536.5L486.2 536.5" stroke-width="0.7"/>
<path d="M486.5 512.5L486.5 565" stroke-width="0.7"/>
<path d="M220 565.5L488.8 565.5" stroke-width="1.0" stroke="#555"/>
<path d="M220 566.5L488.8 566.5" stroke-width="0.6"/>
<path d="M215 575.5L488.8 575.5" stroke-width="1.05"/>
<path d="M220 585.5L488.8 585.5" stroke-width="0.95"/>
<path d="M220 592.5L488.8 592.5" stroke-width="0.95"/>
<path d="M215 601.5L488.8 601.5" stroke-width="0.6"/>
<path d="M220 603.5L488.8 603.5" stroke-width="0.6"/>
<path d="M220 613.5L488.8 613.5" stroke-width="0.7"/>
<path d="M220.5 565.2L220.5 632.5" stroke-width="0.7"/>
<path d="M488.5 565.2L488.5 647" stroke-width="0.7"/>
<rect x="215" y="566.5" width="5" height="9.5" stroke-width="0.6"/>
<path d="M210 588.5L222.5 588.5" stroke-width="0.5" stroke-dasharray="5 1.5"/>
<path d="M193.8 515.5L486.2 515.5" stroke-width="0.85"/>
<path d="M200.80 513.40L193.8 515.3L200.80 517.20" stroke-width="0.85"/>
<path d="M208.00 517.20L215 515.3L208.00 513.40" stroke-width="0.85"/>
<path d="M222.00 513.40L215 515.3L222.00 517.20" stroke-width="0.85"/>
<path d="M479.20 517.20L486.2 515.3L479.20 513.40" stroke-width="0.85"/>
<text x="204.3" y="511.3" font-size="9" text-anchor="middle" stroke="#20202a" stroke-width="0.08">8</text>
<text x="349.6" y="511.3" font-size="9" text-anchor="middle" stroke="#20202a" stroke-width="0.08">M</text>
<path d="M177.5 507L177.5 605.8" stroke-width="0.85"/>
<path d="M175.60 522.40L177.5 529.4L179.40 522.40" stroke-width="0.85"/>
<path d="M179.40 537.90L177.5 530.9L175.60 537.90" stroke-width="0.85"/>
<path d="M175.60 598.80L177.5 605.8L179.40 598.80" stroke-width="0.85"/>
<path d="M174.5 530.2L191 530.2" stroke-width="1.3"/>
<path d="M174.5 605.5L191 605.5" stroke-width="0.66"/>
<text x="175" y="513.8" font-size="9" text-anchor="middle" transform="rotate(-90 175 513.8)" stroke="#20202a" stroke-width="0.08">0.5</text>
<text x="175" y="569.5" font-size="9" text-anchor="middle" transform="rotate(-90 175 569.5)" stroke="#20202a" stroke-width="0.08">28.5</text>
<path d="M220 630.5L488.8 630.5" stroke-width="0.85"/>
<path d="M227.00 628.10L220 630L227.00 631.90" stroke-width="0.85"/>
<path d="M481.80 631.90L488.8 630L481.80 628.10" stroke-width="0.85"/>
<text x="354.6" y="626.8" font-size="9" text-anchor="middle" stroke="#20202a" stroke-width="0.08">Z</text>
<path d="M193.8 645.5L488.8 645.5" stroke-width="0.85"/>
<path d="M200.80 643.10L193.8 645L200.80 646.90" stroke-width="0.85"/>
<path d="M481.80 646.90L488.8 645L481.80 643.10" stroke-width="0.85"/>
<text x="341.8" y="641.8" font-size="9" text-anchor="middle" stroke="#20202a" stroke-width="0.08">ZZ</text>
<path d="M489.3 529.5L521.8 529.5" stroke-width="0.66"/>
<path d="M491 613.5L521.8 613.5" stroke-width="0.66"/>
<path d="M519.5 529.3L519.5 613.8" stroke-width="0.85"/>
<path d="M521.20 536.30L519.3 529.3L517.40 536.30" stroke-width="0.85"/>
<path d="M517.40 606.80L519.3 613.8L521.20 606.80" stroke-width="0.85"/>
<text x="517" y="571.3" font-size="9" text-anchor="middle" transform="rotate(-90 517 571.3)" stroke="#20202a" stroke-width="0.08">32</text>
<path d="M51.8 727.5L347 727.5" stroke-width="0.7"/>
<path d="M51.8 858.5L347 858.5" stroke-width="0.7"/>
<path d="M51.5 727.4L51.5 858.8" stroke-width="0.7"/>
<path d="M72.5 727.4L72.5 858.8" stroke-width="0.7"/>
<path d="M78.5 727.4L78.5 858.8" stroke-width="0.8"/>
<path d="M347.5 667L347.5 905" stroke-width="0.7"/>
<path d="M72.5 744.5L78.3 744.5" stroke-width="0.8"/>
<path d="M72.5 753.5L78.3 753.5" stroke-width="0.8"/>
<path d="M72.5 804.5L78.3 804.5" stroke-width="0.8"/>
<path d="M72.5 832.5L78.3 832.5" stroke-width="0.8"/>
<path d="M72.5 841.5L78.3 841.5" stroke-width="0.8"/>
<path d="M75.5 744.2L75.5 753.6" stroke-width="0.5" stroke="#666"/>
<path d="M75.5 832.4L75.5 841" stroke-width="0.5" stroke="#666"/>
<rect x="73.3" y="779.2" width="4.3" height="2.8" stroke-width="0.6"/>
<path d="M73.3 780.6L77.6 780.6" stroke-width="1.6" stroke="#888"/>
<path d="M78.3 748.9L347 748.9" stroke-width="1.45"/>
<path d="M78.3 749.5L347 749.5" stroke-width="0.5" stroke="#888"/>
<path d="M78.3 773.8L347 773.8" stroke-width="1.45"/>
<path d="M78.3 774.5L347 774.5" stroke-width="0.5" stroke="#888"/>
<path d="M78.3 811.5L347 811.5" stroke-width="1.45"/>
<path d="M78.3 812.5L347 812.5" stroke-width="0.5" stroke="#888"/>
<path d="M78.3 836.4L347 836.4" stroke-width="1.45"/>
<path d="M78.3 837.5L347 837.5" stroke-width="0.5" stroke="#888"/>
<rect x="53.5" y="752.3" width="8" height="28.2" rx="1" stroke-width="0.8"/>
<path d="M54.5 753.3L54.5 779.5" stroke-width="0.6" stroke="#555"/>
<path d="M61.5 756.5L72.7 756.5" stroke-width="1.2"/>
<path d="M61.5 776.3L72.7 776.3" stroke-width="1.2"/>
<path d="M50 766.5L80.5 766.5" stroke-width="0.7" stroke-dasharray="9 2.5 3 2.5"/>
<rect x="53.5" y="805" width="8" height="28.6" rx="1" stroke-width="0.8"/>
<path d="M54.5 806L54.5 832.6" stroke-width="0.6" stroke="#555"/>
<path d="M61.5 809.5L72.7 809.5" stroke-width="1.2"/>
<path d="M61.5 829.1L72.7 829.1" stroke-width="1.2"/>
<path d="M50 819.5L80.5 819.5" stroke-width="0.7" stroke-dasharray="9 2.5 3 2.5"/>
<path d="M49 792.5L80 792.5" stroke-width="0.5"/>
<path d="M80 792.5L352 792.5" stroke-width="0.5" stroke-dasharray="11 4 4 4"/>
<circle cx="92.5" cy="792.5" r="10" stroke-width="1.5" stroke="#333"/>
<circle cx="92.5" cy="792.5" r="8.2" stroke-width="0.7"/>
<circle cx="92.5" cy="792.5" r="3.7" stroke-width="0.9"/>
<path d="M79.5 792.5H87.5M97.5 792.5H105.5" stroke-width="0.6"/>
<path d="M92.5 779.9V787.5M92.5 797.5V805.5M92.5 790.7V794.3" stroke-width="0.9"/>
<circle cx="164.5" cy="792.5" r="10" stroke-width="1.5" stroke="#333"/>
<circle cx="164.5" cy="792.5" r="8.2" stroke-width="0.7"/>
<circle cx="164.5" cy="792.5" r="3.7" stroke-width="0.9"/>
<path d="M151.5 792.5H159.5M169.5 792.5H177.5" stroke-width="0.6"/>
<path d="M164.5 779.9V787.5M164.5 797.5V805.5M164.5 790.7V794.3" stroke-width="0.9"/>
<circle cx="237.5" cy="792.5" r="10" stroke-width="1.5" stroke="#333"/>
<circle cx="237.5" cy="792.5" r="8.2" stroke-width="0.7"/>
<circle cx="237.5" cy="792.5" r="3.7" stroke-width="0.9"/>
<path d="M224.5 792.5H232.5M242.5 792.5H250.5" stroke-width="0.6"/>
<path d="M237.5 779.9V787.5M237.5 797.5V805.5M237.5 790.7V794.3" stroke-width="0.9"/>
<circle cx="117.7" cy="792.5" r="6" stroke-width="1.35"/>
<path d="M115.2 792.5H116.7M118.7 792.5H120.2M117.7 784.0V785.5M117.7 799.5V801.0" stroke-width="0.7"/>
<circle cx="212.5" cy="792.5" r="6" stroke-width="1.35"/>
<path d="M210.0 792.5H211.5M213.5 792.5H215.0M212.5 784.0V785.5M212.5 799.5V801.0" stroke-width="0.7"/>
<circle cx="307.4" cy="792.5" r="6" stroke-width="1.35"/>
<path d="M304.9 792.5H306.4M308.4 792.5H309.9M307.4 784.0V785.5M307.4 799.5V801.0" stroke-width="0.7"/>
<circle cx="117.7" cy="845.4" r="5.3" stroke-width="0.8"/>
<path d="M109.9 845.4H115.5M117 845.4H118.4M119.9 845.4H125.5M117.7 837.6V843.2M117.7 844.7V846.1M117.7 847.6V853.2" stroke-width="0.6"/>
<circle cx="212.5" cy="845.5" r="10.4" stroke-width="1.0" stroke-dasharray="7 2.8"/>
<path d="M211 840.3H214A5.2 5.2 0 0 1 214 850.7H211A5.2 5.2 0 0 1 211 840.3Z" stroke-width="1.1"/>
<path d="M205 845.5L220 845.5" stroke-width="0.6"/>
<path d="M212.5 838L212.5 853" stroke-width="0.8"/>
<text x="193" y="852.5" font-size="9" text-anchor="middle" stroke="#20202a" stroke-width="0.08">D</text>
<path d="M221 845.5L380 845.5" stroke-width="0.6"/>
<path d="M117.5 667L117.5 786.5" stroke-width="0.66"/>
<path d="M117.5 799L117.5 803" stroke-width="0.5"/>
<path d="M117.5 855L117.5 905" stroke-width="0.66"/>
<path d="M212.5 686L212.5 725" stroke-width="0.8"/>
<path d="M212.5 729L212.5 748" stroke-width="0.9" stroke-dasharray="6 3"/>
<path d="M212.5 750L212.5 786" stroke-width="0.9"/>
<path d="M212.5 799L212.5 811" stroke-width="0.9"/>
<path d="M212.5 813L212.5 835" stroke-width="0.9" stroke-dasharray="6 3"/>
<path d="M212.5 857L212.5 905" stroke-width="0.8"/>
<path d="M307.5 667L307.5 725" stroke-width="0.9"/>
<path d="M307.5 729L307.5 748" stroke-width="0.9" stroke-dasharray="6 3"/>
<path d="M307.5 750L307.5 786" stroke-width="0.9"/>
<path d="M307.5 799L307.5 811" stroke-width="0.9"/>
<path d="M307.5 814L307.5 836" stroke-width="0.9" stroke-dasharray="6 3"/>
<path d="M307.5 838L307.5 880" stroke-width="0.9"/>
<path d="M117.5 669.5L347 669.5" stroke-width="0.85"/>
<path d="M124.50 667.90L117.5 669.8L124.50 671.70" stroke-width="0.85"/>
<path d="M300.40 671.70L307.4 669.8L300.40 667.90" stroke-width="0.85"/>
<path d="M314.40 667.90L307.4 669.8L314.40 671.70" stroke-width="0.85"/>
<path d="M340.40 671.70L347.4 669.8L340.40 667.90" stroke-width="0.85"/>
<text x="214.3" y="667" font-size="9" text-anchor="middle" stroke="#20202a" stroke-width="0.08">(NN&#8211;1)&#8201;<tspan font-size="11.5" dy="1.2">&#215;</tspan><tspan dy="-1.2">&#8201;</tspan>H</text>
<text x="326.3" y="666.5" font-size="9" text-anchor="middle" stroke="#20202a" stroke-width="0.08">G</text>
<path d="M212.5 689.5L307 689.5" stroke-width="0.85"/>
<path d="M219.50 687.40L212.5 689.3L219.50 691.20" stroke-width="0.85"/>
<path d="M300.40 691.20L307.4 689.3L300.40 687.40" stroke-width="0.85"/>
<text x="259.3" y="687.2" font-size="9" text-anchor="middle" stroke="#20202a" stroke-width="0.08">H</text>
<path d="M221.50 710.10L212.5 711.6L221.50 713.10Z" fill="#141414" stroke="none"/>
<path d="M212.5 711.5L239 711.5" stroke-width="0.6"/>
<text x="232" y="708.3" font-size="9" text-anchor="middle" stroke="#20202a" stroke-width="0.08">A</text>
<path d="M316.40 710.10L307.4 711.6L316.40 713.10Z" fill="#141414" stroke="none"/>
<path d="M307.4 711.5L334 711.5" stroke-width="0.6"/>
<text x="327.8" y="708.3" font-size="9" text-anchor="middle" stroke="#20202a" stroke-width="0.08">B</text>
<path d="M210.3 711.5L212.5 711.5" stroke-width="0.6"/>
<path d="M304.8 711.5L307 711.5" stroke-width="0.6"/>
<path d="M221.50 872.30L212.5 873.8L221.50 875.30Z" fill="#141414" stroke="none"/>
<path d="M212.5 873.5L239 873.5" stroke-width="0.6"/>
<text x="232" y="883.5" font-size="9" text-anchor="middle" stroke="#20202a" stroke-width="0.08">A</text>
<path d="M316.40 872.30L307.4 873.8L316.40 875.30Z" fill="#141414" stroke="none"/>
<path d="M307.4 873.5L334 873.5" stroke-width="0.6"/>
<text x="327.8" y="883.5" font-size="9" text-anchor="middle" stroke="#20202a" stroke-width="0.08">B</text>
<path d="M210.3 873.5L212.5 873.5" stroke-width="0.6"/>
<path d="M304.8 873.5L307 873.5" stroke-width="0.6"/>
<path d="M117.5 902.5L347 902.5" stroke-width="0.85"/>
<path d="M124.50 900.60L117.5 902.5L124.50 904.40" stroke-width="0.85"/>
<path d="M205.50 904.40L212.5 902.5L205.50 900.60" stroke-width="0.85"/>
<path d="M219.50 900.60L212.5 902.5L219.50 904.40" stroke-width="0.85"/>
<path d="M340.40 904.40L347.4 902.5L340.40 900.60" stroke-width="0.85"/>
<text x="163.3" y="899.3" font-size="9" text-anchor="middle" stroke="#20202a" stroke-width="0.08">HA</text>
<text x="279.3" y="899.3" font-size="9" text-anchor="middle" stroke="#20202a" stroke-width="0.08">GA</text>
<path d="M32.5 855.5L80.3 855.5" stroke-width="0.7"/>
<path d="M32.5 859.5L51.8 859.5" stroke-width="0.7"/>
<path d="M35.5 840.5L35.5 869.6" stroke-width="0.85"/>
<path d="M33.60 848.60L35.5 855.6L37.40 848.60" stroke-width="0.85"/>
<path d="M37.40 866.30L35.5 859.3L33.60 866.30" stroke-width="0.85"/>
<text x="33" y="842" font-size="9" text-anchor="middle" transform="rotate(-90 33 842)" stroke="#20202a" stroke-width="0.08">1</text>
<path d="M83.5 859V855.9H107" stroke-width="0.8"/>
<path d="M27.5 890.5L73.8 890.5" stroke-width="0.66"/>
<path d="M73.8 890L113.5 849.8" stroke-width="1.05"/>
<path d="M110.33 855.71L113.9 849.4L107.63 853.04" stroke-width="0.85"/>
<text x="31.8" y="885" font-size="9" text-anchor="start" stroke="#20202a" stroke-width="0.08">&#981;4H9</text>
<text x="55.2" y="881.5" font-size="5" text-anchor="start" letter-spacing="0.85" stroke="#20202a" stroke-width="0.05">+0.03</text>
<text x="59.3" y="887.4" font-size="5" text-anchor="start" letter-spacing="0.85" stroke="#20202a" stroke-width="0.05">0</text>
<path d="M8 12L22 24M4 38L18 48M6 92L24 62 M34 8V26M34 10H94V26 M52 26L40 46M74 26L90 46 M32 58H96 M64 44V98 M62 60L34 92M66 60L96 92" transform="translate(28.6 893) scale(0.0860)" stroke-width="8.72" stroke-linecap="square"/>
<text x="37.5" y="900.8" font-size="9" text-anchor="start" stroke="#20202a" stroke-width="0.08">3.5</text>
<path d="M377.5 792.5L377.5 845.5" stroke-width="0.85"/>
<path d="M379.40 799.50L377.5 792.5L375.60 799.50" stroke-width="0.85"/>
<path d="M375.60 838.50L377.5 845.5L379.40 838.50" stroke-width="0.85"/>
<text x="375" y="818.8" font-size="9" text-anchor="middle" transform="rotate(-90 375 818.8)" stroke="#20202a" stroke-width="0.08">20</text>
<path d="M447.6 727.1L402.6 727.1L402.6 750.5L403.8 751.5L403.8 834L402.6 835L402.6 858.8L447.6 858.8" stroke-width="0.7"/>
<path d="M447.6 727.1L480.5 727.1L487.6 734.2L487.6 762L485.8 763L485.8 822L487.6 823L487.6 851.6L480.5 858.8L447.6 858.8" stroke-width="0.7"/>
<path d="M447.5 697.5L447.5 858.8" stroke-width="0.6"/>
<path d="M451.1 727.1L451.1 858.8" stroke-width="1.2"/>
<path d="M413.6 727.1V733.3000000000001Q415.40000000000003 734.1 414.6 735.3000000000001V742.4A3.7 3.7 0 0 0 418.3 746.1H422.05A3.7 3.7 0 0 0 425.75 742.4V735.5000000000001M430.75 735.5000000000001V742.4A3.7 3.7 0 0 0 434.45 746.1H438.2A3.7 3.7 0 0 0 441.9 742.4V735.3000000000001Q441.09999999999997 734.1 442.9 733.3000000000001V727.1" stroke-width="0.8"/>
<path d="M424.75 735.5000000000001V733.9000000000001H431.75V735.5000000000001" stroke-width="1.0" stroke="#555"/>
<circle cx="427.5" cy="766.4" r="15.2" stroke-width="1.4" stroke="#555"/>
<circle cx="427.5" cy="766.4" r="10.6" stroke-width="1.1" stroke="#555"/>
<circle cx="427.5" cy="766.4" r="8.7" stroke-width="0.7"/>
<circle cx="427.5" cy="766.4" r="7" stroke-width="0.7"/>
<path d="M409 766.5L445.6 766.5" stroke-width="0.6"/>
<path d="M427.5 748.7L427.5 784.6" stroke-width="0.6"/>
<path d="M426 766.5L429 766.5" stroke-width="0.9"/>
<path d="M427.5 764.9L427.5 767.9" stroke-width="0.9"/>
<circle cx="427.5" cy="819.3" r="15.2" stroke-width="1.4" stroke="#555"/>
<circle cx="427.5" cy="819.3" r="10.6" stroke-width="1.1" stroke="#555"/>
<circle cx="427.5" cy="819.3" r="8.7" stroke-width="0.7"/>
<circle cx="427.5" cy="819.3" r="7" stroke-width="0.7"/>
<path d="M409 819.5L445.6 819.5" stroke-width="0.6"/>
<path d="M427.5 801.6L427.5 837.5" stroke-width="0.6"/>
<path d="M426 819.5L429 819.5" stroke-width="0.9"/>
<path d="M427.5 817.8L427.5 820.8" stroke-width="0.9"/>
<path d="M402.6 785.7H429.7V798.9H402.6" stroke-width="1.2"/>
<path d="M429.7 787.5L447.6 787.5" stroke-width="0.6"/>
<path d="M429.7 798.5L447.6 798.5" stroke-width="0.6"/>
<path d="M399.5 792.5L424 792.5" stroke-width="1.0" stroke="#777"/>
<path d="M430.5 792.5L435 792.5" stroke-width="1.0" stroke="#777"/>
<path d="M440.5 792.5L470 792.5" stroke-width="1.0" stroke-dasharray="22 3" stroke="#777"/>
<path d="M476 792.5L492 792.5" stroke-width="1.0" stroke-dasharray="4 3" stroke="#777"/>
<rect x="402.6" y="840.9" width="9.6" height="9.6" stroke-width="0.6"/>
<path d="M451.1 744.6H472.3V769.5M472.3 816V840.9H451.1" stroke-width="0.8"/>
<rect x="447.6" y="770" width="26.8" height="45.5" rx="1.5" stroke-width="0.8"/>
<path d="M447.6 780.5L474.4 780.5" stroke-width="0.6"/>
<path d="M451.1 787.5L474.4 787.5" stroke-width="0.7"/>
<path d="M451.1 798.5L474.4 798.5" stroke-width="0.7"/>
<path d="M447.6 805.5L474.4 805.5" stroke-width="0.6"/>
<path d="M461.6 763.6L466.2 768.2L461.6 772.8000000000001L457 768.2Z" stroke-width="1.2" fill="#fff"/>
<path d="M461.5 760.7L461.5 763.6" stroke-width="0.8"/>
<path d="M461.5 772.8L461.5 775.7" stroke-width="0.8"/>
<path d="M455 770.5L468.5 770.5" stroke-width="0.5"/>
<path d="M461.6 813.5L466.2 818.1L461.6 822.7L457 818.1Z" stroke-width="1.2" fill="#fff"/>
<path d="M461.5 810.6L461.5 813.5" stroke-width="0.8"/>
<path d="M461.5 822.7L461.5 825.6" stroke-width="0.8"/>
<path d="M455 816.5L468.5 816.5" stroke-width="0.5"/>
<path d="M474.4 780.7L522.6 780.7" stroke-width="1.3"/>
<path d="M522.6 780.5L540 780.5" stroke-width="0.6"/>
<path d="M474.4 805.1L522.6 805.1" stroke-width="1.2" stroke="#444"/>
<path d="M522.6 805.5L540 805.5" stroke-width="0.6"/>
<path d="M474.4 787.5L507 787.5" stroke-width="0.8"/>
<path d="M474.4 798.5L507 798.5" stroke-width="0.8"/>
<path d="M402.5 700L402.5 727.1" stroke-width="0.66"/>
<path d="M472.5 700L472.5 742" stroke-width="0.66"/>
<path d="M402.6 703.5L483 703.5" stroke-width="0.85"/>
<path d="M409.60 701.10L402.6 703L409.60 704.90" stroke-width="0.85"/>
<path d="M440.60 704.90L447.6 703L440.60 701.10" stroke-width="0.85"/>
<path d="M479.30 701.10L472.3 703L479.30 704.90" stroke-width="0.85"/>
<text x="425" y="701" font-size="9" text-anchor="middle" stroke="#20202a" stroke-width="0.08">17</text>
<text x="459.6" y="701" font-size="9" text-anchor="middle" stroke="#20202a" stroke-width="0.08">9.5</text>
<path d="M504.5 757L504.5 808.2" stroke-width="0.85"/>
<path d="M502.50 780.60L504.4 787.6L506.30 780.60" stroke-width="0.85"/>
<path d="M506.30 805.20L504.4 798.2L502.50 805.20" stroke-width="0.85"/>
<path d="M520.5 759.4L520.5 815" stroke-width="0.7"/>
<path d="M518.40 773.70L520.3 780.7L522.20 773.70" stroke-width="0.85"/>
<path d="M522.20 812.10L520.3 805.1L518.40 812.10" stroke-width="0.85"/>
<path d="M537.5 752L537.5 815" stroke-width="0.85"/>
<path d="M535.70 773.70L537.6 780.7L539.50 773.70" stroke-width="0.85"/>
<path d="M539.50 812.10L537.6 805.1L535.70 812.10" stroke-width="0.85"/>
<text x="501.3" y="777.5" font-size="9" text-anchor="start" transform="rotate(-90 501.3 777.5)" stroke="#20202a" stroke-width="0.08">&#981;4.2</text>
<text x="517.3" y="772.5" font-size="9" text-anchor="start" transform="rotate(-90 517.3 772.5)" stroke="#20202a" stroke-width="0.08">&#981;9</text>
<text x="534.5" y="771.5" font-size="9" text-anchor="start" transform="rotate(-90 534.5 771.5)" stroke="#20202a" stroke-width="0.08">&#981;9.5</text>
<text x="443" y="890.5" font-size="9" text-anchor="middle" stroke="#20202a" stroke-width="0.08">A &#8211; A</text>
<path d="M366.3 676.5L421.3 676.5" stroke-width="0.66"/>
<path d="M366.3 676.3L403.5 784.5" stroke-width="1.05"/>
<path d="M399.72 779.30L403.8 785.3L403.32 778.06" stroke-width="0.85"/>
<text x="372.3" y="671.8" font-size="9" text-anchor="start" stroke="#20202a" stroke-width="0.08">NN&#8211;M5&#8201;<tspan font-size="11.5" dy="1.2">&#215;</tspan><tspan dy="-1.2">&#8201;</tspan>0.8</text>
<path d="M8 12L22 24M4 38L18 48M6 92L24 62 M34 8V26M34 10H94V26 M52 26L40 46M74 26L90 46 M32 58H96 M64 44V98 M62 60L34 92M66 60L96 92" transform="translate(372.3 679) scale(0.0860)" stroke-width="8.72" stroke-linecap="square"/>
<text x="381.2" y="686.8" font-size="9" text-anchor="start" stroke="#20202a" stroke-width="0.08">10</text>
<path d="M609.5 727.1L561.9 727.1L561.9 747L563.1 748L563.1 836.8L561.9 837.8L561.9 858.8L609.5 858.8" stroke-width="0.7"/>
<path d="M609.5 727.1L640.1 727.1L645.9 733L645.9 765L644.5 766L644.5 821L645.9 822L645.9 853.2L640.1 858.8L609.5 858.8" stroke-width="0.7"/>
<path d="M609.5 727.1L609.5 858.8" stroke-width="1.2"/>
<path d="M572.4 727.1V733.3000000000001Q574.1999999999999 734.1 573.4 735.3000000000001V742.4A3.7 3.7 0 0 0 577.1 746.1H581.05A3.7 3.7 0 0 0 584.75 742.4V735.5000000000001M589.75 735.5000000000001V742.4A3.7 3.7 0 0 0 593.45 746.1H597.4A3.7 3.7 0 0 0 601.1 742.4V735.3000000000001Q600.3000000000001 734.1 602.1 733.3000000000001V727.1" stroke-width="0.8"/>
<path d="M583.75 735.5000000000001V733.9000000000001H590.75V735.5000000000001" stroke-width="1.0" stroke="#555"/>
<circle cx="587.1" cy="766.6" r="16.2" stroke-width="1.0"/>
<circle cx="587.1" cy="766.6" r="15" stroke-width="0.5"/>
<path d="M568 766.5L606 766.5" stroke-width="0.5" stroke-dasharray="9 3 2 3" stroke="#555"/>
<path d="M587.5 748.1L587.5 785.1" stroke-width="0.5" stroke-dasharray="9 3 2 3" stroke="#555"/>
<circle cx="587.1" cy="819.5" r="16.2" stroke-width="1.0"/>
<circle cx="587.1" cy="819.5" r="15" stroke-width="0.5"/>
<path d="M568 819.5L606 819.5" stroke-width="0.5" stroke-dasharray="9 3 2 3" stroke="#555"/>
<path d="M587.5 801L587.5 838" stroke-width="0.5" stroke-dasharray="9 3 2 3" stroke="#555"/>
<path d="M561.9 786.7H588.5V798.6H561.9" stroke-width="1.1"/>
<path d="M559.6 792.5L647 792.5" stroke-width="0.7" stroke-dasharray="10 3"/>
<path d="M609.5 744.4H631.4V766M631.4 819.5V841.3H609.5" stroke-width="0.8"/>
<rect x="606.3" y="770.1" width="27.2" height="45.5" rx="1" stroke-width="0.9"/>
<circle cx="620" cy="781.1" r="10" stroke-width="0.9"/>
<circle cx="620" cy="804.6" r="10" stroke-width="0.9"/>
<path d="M618.5 767.5L618.5 818.2" stroke-width="0.5"/>
<path d="M621.5 767.5L621.5 818.2" stroke-width="0.5"/>
<path d="M609.5 767.5L633.5 767.5" stroke-width="0.9"/>
<path d="M609.5 818.5L633.5 818.5" stroke-width="0.9"/>
<path d="M615.6 767.5Q619.8 765.5 620.9 759.6Q622 765.5 626.1 767.5Z" stroke-width="0.8" fill="#fff"/>
<path d="M615.6 818.3Q619.8 820.3 620.9 826.2Q622 820.3 626.1 818.3Z" stroke-width="0.8" fill="#fff"/>
<path d="M620.5 757.6L620.5 760" stroke-width="0.8"/>
<path d="M620.5 826L620.5 828.4" stroke-width="0.8"/>
<path d="M633.5 781.5L645.4 781.5" stroke-width="0.66"/>
<path d="M648 781.5L669 781.5" stroke-width="0.66"/>
<path d="M633.5 804.5L645.4 804.5" stroke-width="0.66"/>
<path d="M648 804.5L669 804.5" stroke-width="0.66"/>
<path d="M666.5 758.7L666.5 815.6" stroke-width="0.85"/>
<path d="M664.50 774.50L666.4 781.5L668.30 774.50" stroke-width="0.85"/>
<path d="M668.30 811.60L666.4 804.6L664.50 811.60" stroke-width="0.85"/>
<text x="662.7" y="771.3" font-size="9" text-anchor="start" transform="rotate(-90 662.7 771.3)" stroke="#20202a" stroke-width="0.08">&#981;9</text>
<text x="601.2" y="890.5" font-size="9" text-anchor="middle" stroke="#20202a" stroke-width="0.08">B &#8211; B</text>
<rect x="15" y="929" width="715.5" height="18.299999999999955" fill="#d9d9d9" stroke="none"/>
<rect x="15" y="947.3" width="65.2" height="131.20000000000005" fill="#d7d7d7" stroke="none"/>
<path d="M79.1 929V947.3" stroke="#fff" stroke-width="1.2"/>
<path d="M122.453 929V947.3" stroke="#fff" stroke-width="1.2"/>
<path d="M165.807 929V947.3" stroke="#fff" stroke-width="1.2"/>
<path d="M209.16 929V947.3" stroke="#fff" stroke-width="1.2"/>
<path d="M252.513 929V947.3" stroke="#fff" stroke-width="1.2"/>
<path d="M295.867 929V947.3" stroke="#fff" stroke-width="1.2"/>
<path d="M339.22 929V947.3" stroke="#fff" stroke-width="1.2"/>
<path d="M382.573 929V947.3" stroke="#fff" stroke-width="1.2"/>
<path d="M425.927 929V947.3" stroke="#fff" stroke-width="1.2"/>
<path d="M469.28 929V947.3" stroke="#fff" stroke-width="1.2"/>
<path d="M512.633 929V947.3" stroke="#fff" stroke-width="1.2"/>
<path d="M555.987 929V947.3" stroke="#fff" stroke-width="1.2"/>
<path d="M599.34 929V947.3" stroke="#fff" stroke-width="1.2"/>
<path d="M642.693 929V947.3" stroke="#fff" stroke-width="1.2"/>
<path d="M686.047 929V947.3" stroke="#fff" stroke-width="1.2"/>
<path d="M15 946.4H80.2" stroke="#fff" stroke-width="0.9"/>
<path d="M15 965H80.2" stroke="#fff" stroke-width="0.9"/>
<path d="M15 983.6H80.2" stroke="#fff" stroke-width="0.9"/>
<path d="M15 1002.4H80.2" stroke="#fff" stroke-width="0.9"/>
<path d="M15 1021.1H80.2" stroke="#fff" stroke-width="0.9"/>
<path d="M15 1039.8H80.2" stroke="#fff" stroke-width="0.9"/>
<path d="M15 1058.6H80.2" stroke="#fff" stroke-width="0.9"/>
<path d="M15 929L730.5 929" stroke-width="1.6"/>
<path d="M15 1078.5L730.5 1078.5" stroke-width="1.6"/>
<path d="M15 947.5L730.5 947.5" stroke-width="0.8"/>
<path d="M15 965.5L730.5 965.5" stroke-width="0.8"/>
<path d="M15 984.5L730.5 984.5" stroke-width="0.8"/>
<path d="M15 1003.5L730.5 1003.5" stroke-width="0.8"/>
<path d="M15 1022.5L730.5 1022.5" stroke-width="0.8"/>
<path d="M15 1040.5L730.5 1040.5" stroke-width="0.8"/>
<path d="M15 1059.5L730.5 1059.5" stroke-width="0.8"/>
<path d="M80.5 929L80.5 1078.5" stroke-width="1.0"/>
<path d="M123.5 929L123.5 1078.5" stroke-width="1.0"/>
<path d="M166.5 929L166.5 1078.5" stroke-width="1.0"/>
<path d="M210.5 929L210.5 1078.5" stroke-width="1.0"/>
<path d="M253.5 929L253.5 1078.5" stroke-width="1.0"/>
<path d="M296.5 929L296.5 1078.5" stroke-width="1.0"/>
<path d="M340.5 929L340.5 1078.5" stroke-width="1.0"/>
<path d="M383.5 929L383.5 1078.5" stroke-width="1.0"/>
<path d="M427.5 929L427.5 1078.5" stroke-width="1.0"/>
<path d="M470.5 929L470.5 1078.5" stroke-width="1.0"/>
<path d="M513.5 929L513.5 1078.5" stroke-width="1.0"/>
<path d="M557.5 929L557.5 1078.5" stroke-width="1.0"/>
<path d="M600.5 929L600.5 1078.5" stroke-width="1.0"/>
<path d="M643.5 929L643.5 1078.5" stroke-width="1.0"/>
<path d="M687.5 929L687.5 1078.5" stroke-width="1.0"/>
<path d="M30 6L8 30M34 30L6 62M22 48V98 M48 16H94M42 44H98M74 44V88Q74 98 58 92" transform="translate(37.3 933.3) scale(0.1000)" stroke-width="10.00" stroke-linecap="square"/>
<path d="M34 6L10 16M4 32H42M24 14V98M22 36L4 72M26 40L42 60 M54 8H92V38H54Z M50 54H96M56 74H92M46 96H98M74 54V96" transform="translate(48.6 933.3) scale(0.1000)" stroke-width="10.00" stroke-linecap="square"/>
<text x="101.877" y="942.2" font-size="10.5" text-anchor="middle" stroke="#20202a" stroke-width="0.12">F</text>
<text x="145.23" y="942.2" font-size="10.5" text-anchor="middle" stroke="#20202a" stroke-width="0.12">G</text>
<text x="188.583" y="942.2" font-size="10.5" text-anchor="middle" stroke="#20202a" stroke-width="0.12">GA</text>
<text x="231.937" y="942.2" font-size="10.5" text-anchor="middle" stroke="#20202a" stroke-width="0.12">H</text>
<text x="275.29" y="942.2" font-size="10.5" text-anchor="middle" stroke="#20202a" stroke-width="0.12">HA</text>
<text x="318.643" y="942.2" font-size="10.5" text-anchor="middle" stroke="#20202a" stroke-width="0.12">I</text>
<text x="361.997" y="942.2" font-size="10.5" text-anchor="middle" stroke="#20202a" stroke-width="0.12">J</text>
<text x="405.35" y="942.2" font-size="10.5" text-anchor="middle" stroke="#20202a" stroke-width="0.12">K</text>
<text x="448.703" y="942.2" font-size="10.5" text-anchor="middle" stroke="#20202a" stroke-width="0.12">KA</text>
<text x="492.057" y="942.2" font-size="10.5" text-anchor="middle" stroke="#20202a" stroke-width="0.12">M</text>
<text x="535.41" y="942.2" font-size="10.5" text-anchor="middle" stroke="#20202a" stroke-width="0.12">N</text>
<text x="578.763" y="942.2" font-size="10.5" text-anchor="middle" stroke="#20202a" stroke-width="0.12">NA</text>
<text x="622.117" y="942.2" font-size="10.5" text-anchor="middle" stroke="#20202a" stroke-width="0.12">NN</text>
<text x="665.47" y="942.2" font-size="10.5" text-anchor="middle" stroke="#20202a" stroke-width="0.12">Z</text>
<text x="708.823" y="942.2" font-size="10.5" text-anchor="middle" stroke="#20202a" stroke-width="0.12">ZZ</text>
<text x="47.6" y="960.1" font-size="10.5" text-anchor="middle" stroke="#20202a" stroke-width="0.12">10</text>
<text x="101.877" y="960.1" font-size="10.5" text-anchor="middle" stroke="#20202a" stroke-width="0.12">35</text>
<text x="145.23" y="960.1" font-size="10.5" text-anchor="middle" stroke="#20202a" stroke-width="0.12">15</text>
<text x="188.583" y="960.1" font-size="10.5" text-anchor="middle" stroke="#20202a" stroke-width="0.12">15</text>
<text x="231.937" y="960.1" font-size="10.5" text-anchor="middle" stroke="#20202a" stroke-width="0.12">40</text>
<text x="275.29" y="960.1" font-size="10.5" text-anchor="middle" stroke="#20202a" stroke-width="0.12">40</text>
<text x="318.643" y="960.1" font-size="10.5" text-anchor="middle" stroke="#20202a" stroke-width="0.12">10</text>
<text x="361.997" y="960.1" font-size="10.5" text-anchor="middle" stroke="#20202a" stroke-width="0.12">40</text>
<text x="405.35" y="960.1" font-size="10.5" text-anchor="middle" stroke="#20202a" stroke-width="0.12">26.5</text>
<text x="448.703" y="960.1" font-size="10.5" text-anchor="middle" stroke="#20202a" stroke-width="0.12">&#8211;</text>
<text x="492.057" y="960.1" font-size="10.5" text-anchor="middle" stroke="#20202a" stroke-width="0.12">71</text>
<text x="535.41" y="960.1" font-size="10.5" text-anchor="middle" stroke="#20202a" stroke-width="0.12">4</text>
<text x="578.763" y="960.1" font-size="10.5" text-anchor="middle" stroke="#20202a" stroke-width="0.12">2</text>
<text x="622.117" y="960.1" font-size="10.5" text-anchor="middle" stroke="#20202a" stroke-width="0.12">2</text>
<text x="665.47" y="960.1" font-size="10.5" text-anchor="middle" stroke="#20202a" stroke-width="0.12">70</text>
<text x="708.823" y="960.1" font-size="10.5" text-anchor="middle" stroke="#20202a" stroke-width="0.12">80</text>
<text x="47.6" y="978.7" font-size="10.5" text-anchor="middle" stroke="#20202a" stroke-width="0.12">20</text>
<text x="101.877" y="978.7" font-size="10.5" text-anchor="middle" stroke="#20202a" stroke-width="0.12">35</text>
<text x="145.23" y="978.7" font-size="10.5" text-anchor="middle" stroke="#20202a" stroke-width="0.12">15</text>
<text x="188.583" y="978.7" font-size="10.5" text-anchor="middle" stroke="#20202a" stroke-width="0.12">15</text>
<text x="231.937" y="978.7" font-size="10.5" text-anchor="middle" stroke="#20202a" stroke-width="0.12">40</text>
<text x="275.29" y="978.7" font-size="10.5" text-anchor="middle" stroke="#20202a" stroke-width="0.12">40</text>
<text x="318.643" y="978.7" font-size="10.5" text-anchor="middle" stroke="#20202a" stroke-width="0.12">10</text>
<text x="361.997" y="978.7" font-size="10.5" text-anchor="middle" stroke="#20202a" stroke-width="0.12">40</text>
<text x="405.35" y="978.7" font-size="10.5" text-anchor="middle" stroke="#20202a" stroke-width="0.12">36.5</text>
<text x="448.703" y="978.7" font-size="10.5" text-anchor="middle" stroke="#20202a" stroke-width="0.12">&#8211;</text>
<text x="492.057" y="978.7" font-size="10.5" text-anchor="middle" stroke="#20202a" stroke-width="0.12">71</text>
<text x="535.41" y="978.7" font-size="10.5" text-anchor="middle" stroke="#20202a" stroke-width="0.12">4</text>
<text x="578.763" y="978.7" font-size="10.5" text-anchor="middle" stroke="#20202a" stroke-width="0.12">2</text>
<text x="622.117" y="978.7" font-size="10.5" text-anchor="middle" stroke="#20202a" stroke-width="0.12">2</text>
<text x="665.47" y="978.7" font-size="10.5" text-anchor="middle" stroke="#20202a" stroke-width="0.12">70</text>
<text x="708.823" y="978.7" font-size="10.5" text-anchor="middle" stroke="#20202a" stroke-width="0.12">80</text>
<text x="47.6" y="997.3" font-size="10.5" text-anchor="middle" stroke="#20202a" stroke-width="0.12">30</text>
<text x="101.877" y="997.3" font-size="10.5" text-anchor="middle" stroke="#20202a" stroke-width="0.12">35</text>
<text x="145.23" y="997.3" font-size="10.5" text-anchor="middle" stroke="#20202a" stroke-width="0.12">15</text>
<text x="188.583" y="997.3" font-size="10.5" text-anchor="middle" stroke="#20202a" stroke-width="0.12">15</text>
<text x="231.937" y="997.3" font-size="10.5" text-anchor="middle" stroke="#20202a" stroke-width="0.12">40</text>
<text x="275.29" y="997.3" font-size="10.5" text-anchor="middle" stroke="#20202a" stroke-width="0.12">40</text>
<text x="318.643" y="997.3" font-size="10.5" text-anchor="middle" stroke="#20202a" stroke-width="0.12">10</text>
<text x="361.997" y="997.3" font-size="10.5" text-anchor="middle" stroke="#20202a" stroke-width="0.12">40</text>
<text x="405.35" y="997.3" font-size="10.5" text-anchor="middle" stroke="#20202a" stroke-width="0.12">46.5</text>
<text x="448.703" y="997.3" font-size="10.5" text-anchor="middle" stroke="#20202a" stroke-width="0.12">&#8211;</text>
<text x="492.057" y="997.3" font-size="10.5" text-anchor="middle" stroke="#20202a" stroke-width="0.12">71</text>
<text x="535.41" y="997.3" font-size="10.5" text-anchor="middle" stroke="#20202a" stroke-width="0.12">4</text>
<text x="578.763" y="997.3" font-size="10.5" text-anchor="middle" stroke="#20202a" stroke-width="0.12">2</text>
<text x="622.117" y="997.3" font-size="10.5" text-anchor="middle" stroke="#20202a" stroke-width="0.12">2</text>
<text x="665.47" y="997.3" font-size="10.5" text-anchor="middle" stroke="#20202a" stroke-width="0.12">70</text>
<text x="708.823" y="997.3" font-size="10.5" text-anchor="middle" stroke="#20202a" stroke-width="0.12">80</text>
<text x="47.6" y="1016.1" font-size="10.5" text-anchor="middle" stroke="#20202a" stroke-width="0.12">40</text>
<text x="101.877" y="1016.1" font-size="10.5" text-anchor="middle" stroke="#20202a" stroke-width="0.12">50</text>
<text x="145.23" y="1016.1" font-size="10.5" text-anchor="middle" stroke="#20202a" stroke-width="0.12">17</text>
<text x="188.583" y="1016.1" font-size="10.5" text-anchor="middle" stroke="#20202a" stroke-width="0.12">42</text>
<text x="231.937" y="1016.1" font-size="10.5" text-anchor="middle" stroke="#20202a" stroke-width="0.12">25</text>
<text x="275.29" y="1016.1" font-size="10.5" text-anchor="middle" stroke="#20202a" stroke-width="0.12">25</text>
<text x="318.643" y="1016.1" font-size="10.5" text-anchor="middle" stroke="#20202a" stroke-width="0.12">10</text>
<text x="361.997" y="1016.1" font-size="10.5" text-anchor="middle" stroke="#20202a" stroke-width="0.12">52</text>
<text x="405.35" y="1016.1" font-size="10.5" text-anchor="middle" stroke="#20202a" stroke-width="0.12">56.5</text>
<text x="448.703" y="1016.1" font-size="10.5" text-anchor="middle" stroke="#20202a" stroke-width="0.12">&#8211;</text>
<text x="492.057" y="1016.1" font-size="10.5" text-anchor="middle" stroke="#20202a" stroke-width="0.12">83</text>
<text x="535.41" y="1016.1" font-size="10.5" text-anchor="middle" stroke="#20202a" stroke-width="0.12">4</text>
<text x="578.763" y="1016.1" font-size="10.5" text-anchor="middle" stroke="#20202a" stroke-width="0.12">2</text>
<text x="622.117" y="1016.1" font-size="10.5" text-anchor="middle" stroke="#20202a" stroke-width="0.12">3</text>
<text x="665.47" y="1016.1" font-size="10.5" text-anchor="middle" stroke="#20202a" stroke-width="0.12">82</text>
<text x="708.823" y="1016.1" font-size="10.5" text-anchor="middle" stroke="#20202a" stroke-width="0.12">92</text>
<text x="47.6" y="1034.8" font-size="10.5" text-anchor="middle" stroke="#20202a" stroke-width="0.12">50</text>
<text x="101.877" y="1034.8" font-size="10.5" text-anchor="middle" stroke="#20202a" stroke-width="0.12">35</text>
<text x="145.23" y="1034.8" font-size="10.5" text-anchor="middle" stroke="#20202a" stroke-width="0.12">15</text>
<text x="188.583" y="1034.8" font-size="10.5" text-anchor="middle" stroke="#20202a" stroke-width="0.12">51</text>
<text x="231.937" y="1034.8" font-size="10.5" text-anchor="middle" stroke="#20202a" stroke-width="0.12">36</text>
<text x="275.29" y="1034.8" font-size="10.5" text-anchor="middle" stroke="#20202a" stroke-width="0.12">36</text>
<text x="318.643" y="1034.8" font-size="10.5" text-anchor="middle" stroke="#20202a" stroke-width="0.12">22</text>
<text x="361.997" y="1034.8" font-size="10.5" text-anchor="middle" stroke="#20202a" stroke-width="0.12">60</text>
<text x="405.35" y="1034.8" font-size="10.5" text-anchor="middle" stroke="#20202a" stroke-width="0.12">66.5</text>
<text x="448.703" y="1034.8" font-size="10.5" text-anchor="middle" stroke="#20202a" stroke-width="0.12">&#8211;</text>
<text x="492.057" y="1034.8" font-size="10.5" text-anchor="middle" stroke="#20202a" stroke-width="0.12">103</text>
<text x="535.41" y="1034.8" font-size="10.5" text-anchor="middle" stroke="#20202a" stroke-width="0.12">6</text>
<text x="578.763" y="1034.8" font-size="10.5" text-anchor="middle" stroke="#20202a" stroke-width="0.12">2</text>
<text x="622.117" y="1034.8" font-size="10.5" text-anchor="middle" stroke="#20202a" stroke-width="0.12">3</text>
<text x="665.47" y="1034.8" font-size="10.5" text-anchor="middle" stroke="#20202a" stroke-width="0.12">102</text>
<text x="708.823" y="1034.8" font-size="10.5" text-anchor="middle" stroke="#20202a" stroke-width="0.12">112</text>
<text x="47.6" y="1053.5" font-size="10.5" text-anchor="middle" stroke="#20202a" stroke-width="0.12">75</text>
<text x="101.877" y="1053.5" font-size="10.5" text-anchor="middle" stroke="#20202a" stroke-width="0.12">55</text>
<text x="145.23" y="1053.5" font-size="10.5" text-anchor="middle" stroke="#20202a" stroke-width="0.12">25</text>
<text x="188.583" y="1053.5" font-size="10.5" text-anchor="middle" stroke="#20202a" stroke-width="0.12">61</text>
<text x="231.937" y="1053.5" font-size="10.5" text-anchor="middle" stroke="#20202a" stroke-width="0.12">36</text>
<text x="275.29" y="1053.5" font-size="10.5" text-anchor="middle" stroke="#20202a" stroke-width="0.12">72</text>
<text x="318.643" y="1053.5" font-size="10.5" text-anchor="middle" stroke="#20202a" stroke-width="0.12">43</text>
<text x="361.997" y="1053.5" font-size="10.5" text-anchor="middle" stroke="#20202a" stroke-width="0.12">85</text>
<text x="405.35" y="1053.5" font-size="10.5" text-anchor="middle" stroke="#20202a" stroke-width="0.12">91.5</text>
<text x="448.703" y="1053.5" font-size="10.5" text-anchor="middle" stroke="#20202a" stroke-width="0.12">125.5</text>
<text x="492.057" y="1053.5" font-size="10.5" text-anchor="middle" stroke="#20202a" stroke-width="0.12">149</text>
<text x="535.41" y="1053.5" font-size="10.5" text-anchor="middle" stroke="#20202a" stroke-width="0.12">6</text>
<text x="578.763" y="1053.5" font-size="10.5" text-anchor="middle" stroke="#20202a" stroke-width="0.12">4</text>
<text x="622.117" y="1053.5" font-size="10.5" text-anchor="middle" stroke="#20202a" stroke-width="0.12">4</text>
<text x="665.47" y="1053.5" font-size="10.5" text-anchor="middle" stroke="#20202a" stroke-width="0.12">148</text>
<text x="708.823" y="1053.5" font-size="10.5" text-anchor="middle" stroke="#20202a" stroke-width="0.12">158</text>
<text x="47.6" y="1072.3" font-size="10.5" text-anchor="middle" stroke="#20202a" stroke-width="0.12">100</text>
<text x="101.877" y="1072.3" font-size="10.5" text-anchor="middle" stroke="#20202a" stroke-width="0.12">65</text>
<text x="145.23" y="1072.3" font-size="10.5" text-anchor="middle" stroke="#20202a" stroke-width="0.12">35</text>
<text x="188.583" y="1072.3" font-size="10.5" text-anchor="middle" stroke="#20202a" stroke-width="0.12">111</text>
<text x="231.937" y="1072.3" font-size="10.5" text-anchor="middle" stroke="#20202a" stroke-width="0.12">36</text>
<text x="275.29" y="1072.3" font-size="10.5" text-anchor="middle" stroke="#20202a" stroke-width="0.12">76</text>
<text x="318.643" y="1072.3" font-size="10.5" text-anchor="middle" stroke="#20202a" stroke-width="0.12">52</text>
<text x="361.997" y="1072.3" font-size="10.5" text-anchor="middle" stroke="#20202a" stroke-width="0.12">130</text>
<text x="405.35" y="1072.3" font-size="10.5" text-anchor="middle" stroke="#20202a" stroke-width="0.12">116.5</text>
<text x="448.703" y="1072.3" font-size="10.5" text-anchor="middle" stroke="#20202a" stroke-width="0.12">179.5</text>
<text x="492.057" y="1072.3" font-size="10.5" text-anchor="middle" stroke="#20202a" stroke-width="0.12">203</text>
<text x="535.41" y="1072.3" font-size="10.5" text-anchor="middle" stroke="#20202a" stroke-width="0.12">6</text>
<text x="578.763" y="1072.3" font-size="10.5" text-anchor="middle" stroke="#20202a" stroke-width="0.12">4</text>
<text x="622.117" y="1072.3" font-size="10.5" text-anchor="middle" stroke="#20202a" stroke-width="0.12">5</text>
<text x="665.47" y="1072.3" font-size="10.5" text-anchor="middle" stroke="#20202a" stroke-width="0.12">202</text>
<text x="708.823" y="1072.3" font-size="10.5" text-anchor="middle" stroke="#20202a" stroke-width="0.12">212</text>
</svg>
</body></html>
